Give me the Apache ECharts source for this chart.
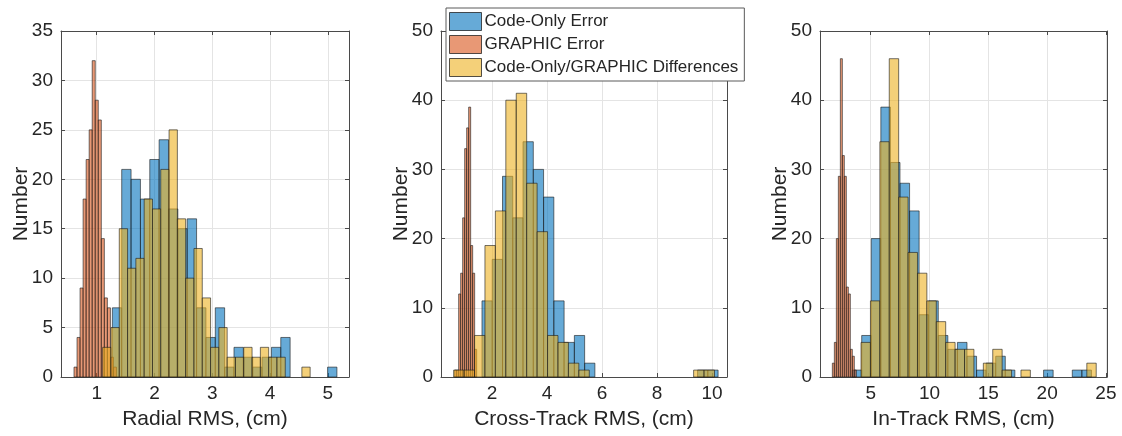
<!DOCTYPE html>
<html><head><meta charset="utf-8">
<script src="https://cdn.jsdelivr.net/npm/echarts@6/dist/echarts.min.js"></script>
<style>html,body{margin:0;padding:0;background:#fff}#c{width:1122px;height:436px}</style>
</head><body><div id="c"></div>
<script>
// ---------- DATA ----------
const seriesNames = ['Code-Only Error', 'GRAPHIC Error', 'Code-Only/GRAPHIC Differences'];
const xTitles = ['Radial RMS, (cm)', 'Cross-Track RMS, (cm)', 'In-Track RMS, (cm)'];
const yTitle = 'Number';
const xTickValues = [[1, 2, 3, 4, 5], [2, 4, 6, 8, 10], [5, 10, 15, 20, 25]];
const xLimits = [[0.382, 5.365], [0.145, 10.545], [0.685, 25.09]];
const yMaxima = [35, 50, 50];
const yIntervals = [5, 10, 10];

// Radial RMS histograms: first bin edge, bin width, counts
const radialCodeOnlyBins = [1.2705, 0.1619];
const radialCodeOnly = [7, 21, 20, 18, 22, 24, 17, 15, 16, 7, 4, 7, 1, 3, 2, 1, 2, 3, 4, 0, 0, 0, 0, 1];
const radialGraphicBins = [0.607, 0.0525];
const radialGraphic = [1, 4, 9, 18, 22, 25, 32, 28, 26, 14, 8, 7, 2, 1];
const radialDiffBins = [1.103, 0.1436];
const radialDiff = [3, 5, 15, 11, 12, 18, 17, 21, 25, 16, 10, 13, 8, 3, 5, 2, 2, 3, 2, 3, 2, 2, 0, 0, 1];

// Cross-Track RMS histograms
const crossCodeOnlyBins = [1.635, 0.3733];
const crossCodeOnly = [11, 17, 29, 23, 34, 30, 26, 11, 5, 6, 2, 0, 0, 0, 0, 0, 0, 0, 0, 0, 0, 1, 1];
const crossGraphicBins = [0.642, 0.0727];
const crossGraphic = [1, 1, 12, 15, 23, 33, 36, 39, 19, 15, 4];
const crossDiffBins = [0.605, 0.3794];
const crossDiff = [1, 1, 6, 19, 24, 40, 41, 28, 21, 6, 5, 2, 1, 0, 0, 0, 0, 0, 0, 0, 0, 0, 0, 1, 1];

// In-Track RMS histograms
const inCodeOnlyBins = [3.417, 0.814];
const inCodeOnly = [1, 6, 20, 39, 31, 28, 24, 9, 11, 6, 4, 5, 3, 1, 2, 3, 1, 0, 0, 0, 1, 0, 0, 1, 1];
const inGraphicBins = [1.735, 0.170];
const inGraphic = [2, 5, 20, 29, 46, 32, 29, 13, 12, 4, 3, 1];
const inDiffBins = [4.174, 0.80];
const inDiff = [5, 11, 34, 46, 26, 18, 15, 11, 8, 5, 4, 4, 0, 2, 4, 1, 0, 1, 0, 0, 0, 0, 0, 0, 2];

// ---------- CHART ----------
const panels = [
  [[radialCodeOnlyBins, radialCodeOnly], [radialGraphicBins, radialGraphic], [radialDiffBins, radialDiff]],
  [[crossCodeOnlyBins, crossCodeOnly], [crossGraphicBins, crossGraphic], [crossDiffBins, crossDiff]],
  [[inCodeOnlyBins, inCodeOnly], [inGraphicBins, inGraphic], [inDiffBins, inDiff]]
];
const fills = ['rgba(0,114,189,0.6)', 'rgba(217,83,25,0.6)', 'rgba(237,177,32,0.6)'];
const edge = 'rgba(25,25,25,0.75)';
const axisColor = '#4a4a4a';
const textColor = '#262626';
const gridColor = '#e4e4e4';
const font = '"Liberation Sans", Arial, Helvetica, sans-serif';
const gridBoxes = [
  {left: 61, top: 31, width: 288, height: 346},
  {left: 441, top: 31, width: 286, height: 346},
  {left: 820, top: 31, width: 287, height: 346}
];

function toBins(bins, counts) {
  const out = [];
  counts.forEach((c, i) => {
    if (c > 0) out.push([bins[0] + i * bins[1], bins[0] + (i + 1) * bins[1], c]);
  });
  return out;
}
function makeRender(fill) {
  return function (params, api) {
    const p0 = api.coord([api.value(0), api.value(2)]);
    const p1 = api.coord([api.value(1), 0]);
    return {
      type: 'rect',
      shape: {x: p0[0], y: p0[1], width: p1[0] - p0[0], height: p1[1] - p0[1]},
      style: {fill: fill, stroke: edge, lineWidth: 0.8}
    };
  };
}

const xAxes = [], yAxes = [], series = [];
for (let i = 0; i < 3; i++) {
  const common = {
    gridIndex: i, type: 'value', min: xLimits[i][0], max: xLimits[i][1],
    axisLine: {show: true, onZero: false, lineStyle: {color: axisColor, width: 1}}
  };
  xAxes.push(Object.assign({}, common, {
    position: 'bottom',
    axisTick: {show: true, inside: true, length: 4, customValues: xTickValues[i], lineStyle: {color: axisColor}},
    axisLabel: {show: true, customValues: xTickValues[i], margin: 7, fontSize: 19, color: textColor, fontFamily: font},
    splitLine: {show: true, lineStyle: {color: gridColor, width: 1}},
    name: xTitles[i], nameLocation: 'middle', nameGap: 32,
    nameTextStyle: {fontSize: 21, color: textColor, fontFamily: font}
  }));
  xAxes.push(Object.assign({}, common, {
    position: 'top',
    axisTick: {show: true, inside: true, length: 4, customValues: xTickValues[i], lineStyle: {color: axisColor}},
    axisLabel: {show: false},
    splitLine: {show: false}
  }));
  const ycommon = {
    gridIndex: i, type: 'value', min: 0, max: yMaxima[i], interval: yIntervals[i],
    axisLine: {show: true, onZero: false, lineStyle: {color: axisColor, width: 1}},
    axisTick: {show: true, inside: true, length: 4, lineStyle: {color: axisColor}}
  };
  yAxes.push(Object.assign({}, ycommon, {
    position: 'left',
    axisLabel: {show: true, margin: 8, fontSize: 19, color: textColor, fontFamily: font},
    splitLine: {show: true, lineStyle: {color: gridColor, width: 1}},
    name: yTitle, nameLocation: 'middle', nameGap: 29, nameMoveOverlap: false,
    nameTextStyle: {fontSize: 21, color: textColor, fontFamily: font}
  }));
  yAxes.push(Object.assign({}, ycommon, {
    position: 'right',
    axisLabel: {show: false},
    splitLine: {show: false}
  }));
  panels[i].forEach((s, k) => {
    series.push({
      type: 'custom', name: seriesNames[k],
      xAxisIndex: 2 * i, yAxisIndex: 2 * i,
      itemStyle: {color: fills[k], borderColor: edge, borderWidth: 1},
      renderItem: makeRender(fills[k]),
      encode: {x: [0, 1], y: 2},
      data: toBins(s[0], s[1]),
      z: 2 + k
    });
  });
}

const chart = echarts.init(document.getElementById('c'), null, {renderer: 'canvas'});
chart.setOption({
  backgroundColor: '#ffffff',
  animation: false,
  grid: gridBoxes,
  xAxis: xAxes,
  yAxis: yAxes,
  legend: {
    left: 446, top: 8, orient: 'vertical',
    padding: [4, 6, 4, 3],
    itemWidth: 32, itemHeight: 18, itemGap: 4,
    backgroundColor: '#ffffff', borderColor: '#5a5a5a', borderWidth: 1,
    icon: 'rect',
    textStyle: {fontSize: 17, color: textColor, fontFamily: font, lineHeight: 18, padding: [0, 0, 0, -2]},
    data: seriesNames.map((n, k) => ({name: n, itemStyle: {color: fills[k], borderColor: edge, borderWidth: 1}}))
  },
  series: series
});
</script></body></html>
